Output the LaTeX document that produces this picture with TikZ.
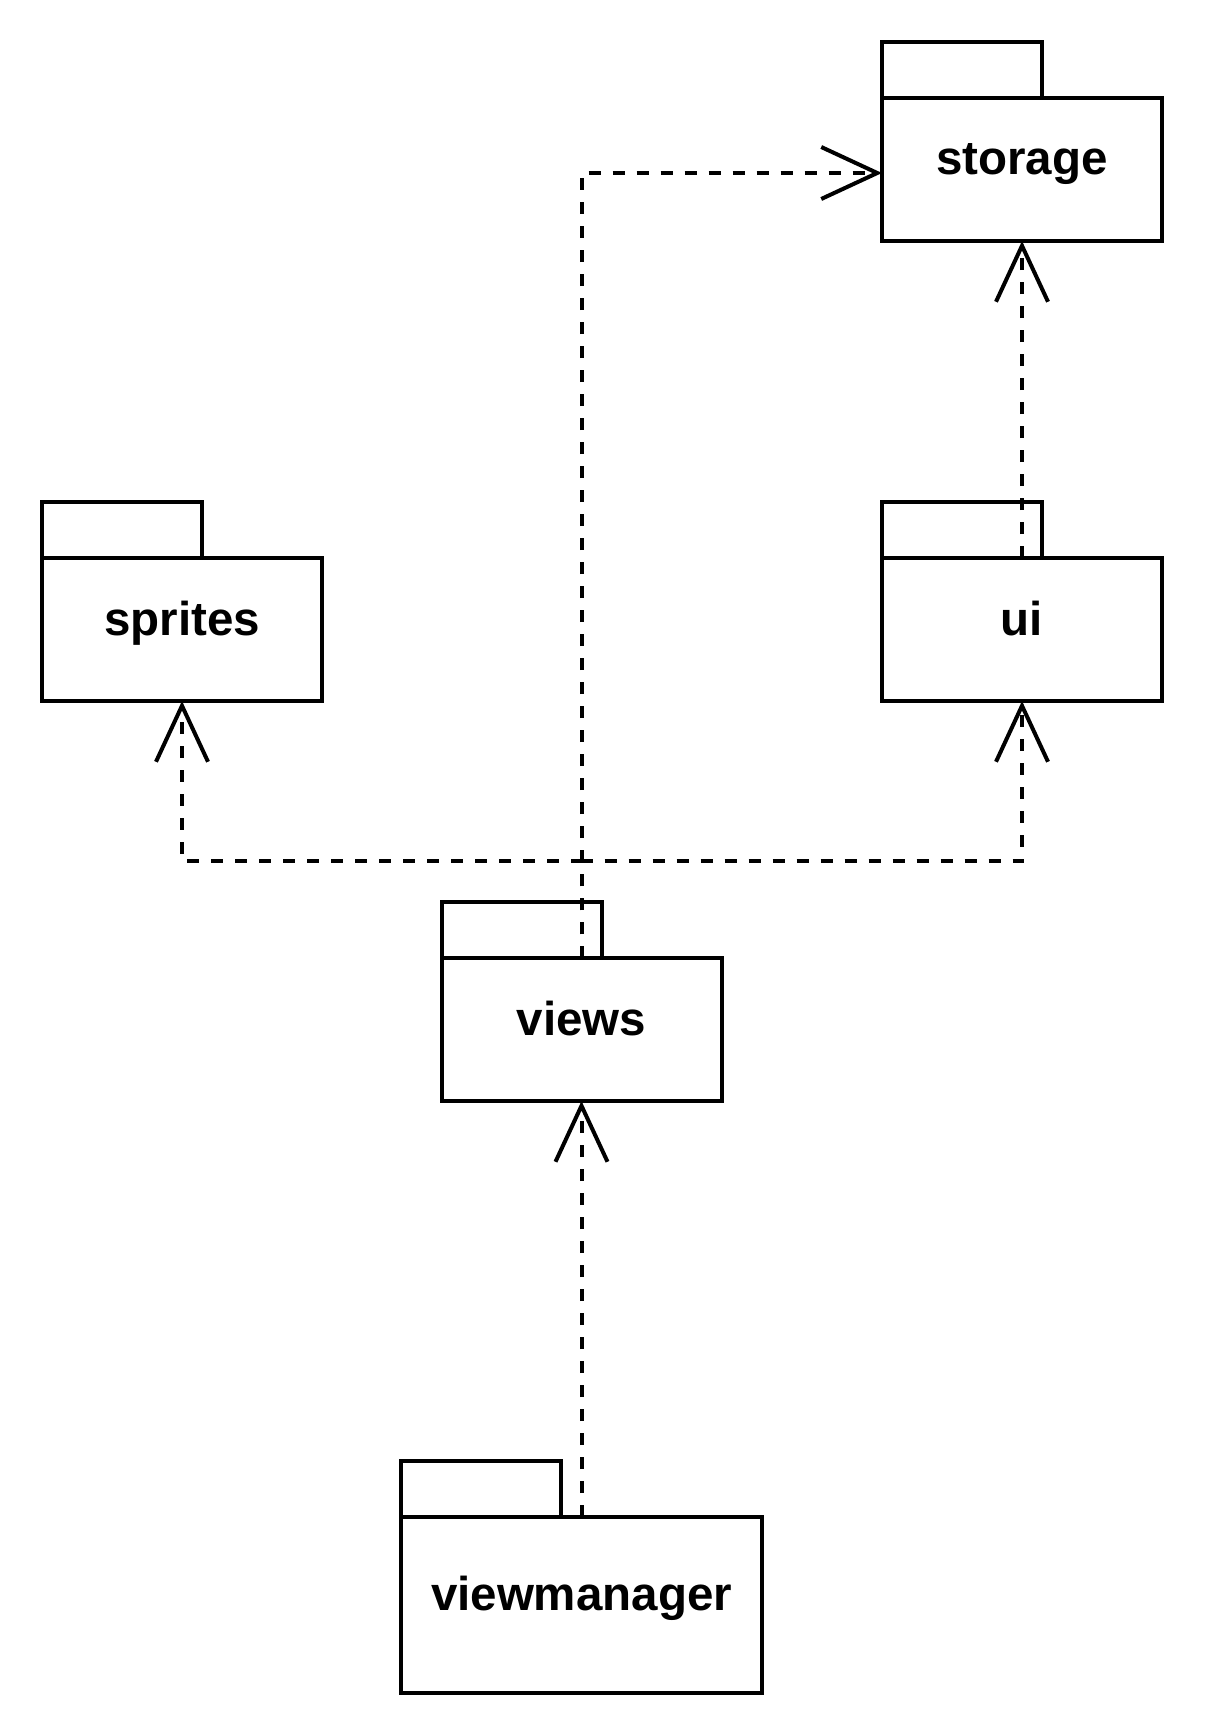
\documentclass[tikz,border=0pt]{standalone}
\usepackage{fontspec}
\setmainfont{Liberation Sans}
\usetikzlibrary{positioning, arrows.meta}
\tikzstyle{package} = [rectangle, draw=black, line width=4pt, outer sep=0pt, minimum width=280pt, minimum height=143pt, text height=33pt, text depth=22pt, font=\fontsize{47.5}{57}\selectfont\bfseries]
\tikzstyle{tab}     = [draw=black, line width=4pt]
\tikzstyle{depends} = [line width=4pt, dash pattern=on 12pt off 12pt, -{Straight Barb[length=56pt, width=52pt]}]

\begin{document}
\begin{tikzpicture}[x=1pt, y=-1pt]
            \useasboundingbox (0,0) rectangle (1204,1736);
            \node[package] (storage) at (1022,169.5) {storage};
            \node[package] (ui) [below=317pt of storage] {ui};
            \node[package] (sprites) [left=560pt of ui] {sprites};
            \node[package] (views) at (581.5,1029.5) {views};
            \node[package, minimum width=361pt, minimum height=176pt] (viewmanager) [below=416pt of views] {viewmanager};
            
            \foreach \pkg in {storage, sprites, ui, views, viewmanager}
                \draw[tab] (\pkg.north west) rectangle ++(160,-56);
            
            \coordinate (bus) at (581.5,861);
            \draw[depends] (views.north) |- ([yshift=-3.5pt]storage.west);
            \draw[depends] (views.north) -- (bus) -| (sprites.south);
            \draw[depends] (views.north) -- (bus) -| (ui.south);
            \draw[depends] (ui.north) -- (storage.south);
            \draw[depends] (viewmanager.north) -- (views.south);
        \end{tikzpicture}
\end{document}
